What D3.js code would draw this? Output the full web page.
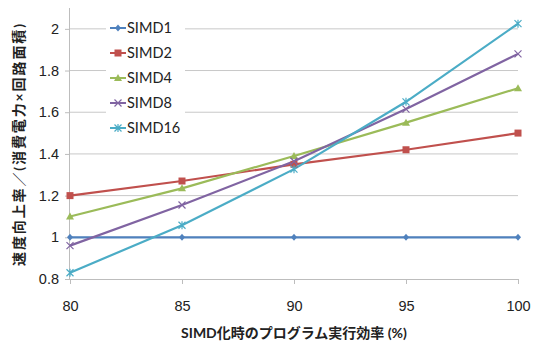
<!DOCTYPE html>
<html>
<head>
<meta charset="utf-8">
<script src="https://cdn.jsdelivr.net/npm/d3@7"></script>
<style>
  body { margin: 0; background: #fff; }
  svg { display: block; font-family: Lato, "Noto Sans CJK JP", sans-serif; }
</style>
</head>
<body>
<div id="chart"></div>
<script>
// data
const xValues = [80, 85, 90, 95, 100];
const simd1 = [1.0, 1.0, 1.0, 1.0, 1.0];
const simd2 = [1.2, 1.27, 1.35, 1.42, 1.5];
const simd4 = [1.1, 1.235, 1.39, 1.55, 1.715];
const simd8 = [0.96, 1.155, 1.365, 1.615, 1.88];
const simd16 = [0.83, 1.058, 1.327, 1.65, 2.025];
const seriesNames = ['SIMD1', 'SIMD2', 'SIMD4', 'SIMD8', 'SIMD16'];
const yTicks = [0.8, 1, 1.2, 1.4, 1.6, 1.8, 2];
const xTitle = 'SIMD化時のプログラム実行効率 (%)';
const yTitle = '速度向上率／(消費電力×回路面積)';

const W = 533, H = 342;
const margin = { top: 8, right: 15, bottom: 63, left: 70 };
const width = W - margin.left - margin.right;
const height = H - margin.top - margin.bottom;

const colors = ['#4F81BD', '#C0504D', '#9BBB59', '#8064A2', '#4BACC6'];
const allSeries = [simd1, simd2, simd4, simd8, simd16];
const series = seriesNames.map((name, i) => ({
    name: name,
    color: colors[i],
    values: xValues.map((x, j) => ({ x: x, y: allSeries[i][j] }))
}));

const svg = d3.select('#chart').append('svg')
    .attr('width', W)
    .attr('height', H)
    .append('g')
    .attr('transform', `translate(${margin.left},${margin.top})`);

const xScale = d3.scaleLinear().domain([80, 100]).range([0, width]);
const yScale = d3.scaleLinear().domain([0.8, 2.1]).range([height, 0]);

// gridlines
svg.append('g')
    .selectAll('line')
    .data(yTicks.slice(1))
    .join('line')
    .attr('x1', 0)
    .attr('x2', width)
    .attr('y1', d => yScale(d))
    .attr('y2', d => yScale(d))
    .attr('stroke', '#c8c8c8')
    .attr('stroke-width', 1);

// y axis
const yAxis = svg.append('g')
    .call(d3.axisLeft(yScale)
        .tickValues(yTicks)
        .tickFormat(d => d3.format('~g')(d))
        .tickSize(5)
        .tickPadding(6)
    );
yAxis.select('.domain').attr('stroke', '#bdbdbd').attr('d', `M-0.5,0V${height}`);
yAxis.selectAll('.tick line').attr('stroke', '#bdbdbd');
yAxis.selectAll('text').attr('font-size', '14.5px').attr('fill', '#222');

// x axis
const xAxis = svg.append('g')
    .attr('transform', `translate(0,${height})`)
    .call(d3.axisBottom(xScale)
        .tickValues(xValues)
        .tickSize(5)
        .tickPadding(17)
    );
xAxis.select('.domain').attr('stroke', '#bdbdbd').attr('d', `M0,0.5H${width}`);
xAxis.selectAll('.tick line').attr('stroke', '#bdbdbd');
xAxis.selectAll('text').attr('font-size', '14.5px').attr('fill', '#222');

// lines
const line = d3.line()
    .x(d => xScale(d.x))
    .y(d => yScale(d.y));

svg.selectAll('.series')
    .data(series)
    .join('path')
    .attr('class', 'series')
    .attr('fill', 'none')
    .attr('stroke', d => d.color)
    .attr('stroke-width', 2.2)
    .attr('d', d => line(d.values));

// markers
function drawMarker(g, i, color) {
    if (i === 0) {
        g.append('path').attr('d', 'M0,-3.5L3,0L0,3.5L-3,0Z').attr('fill', color);
    } else if (i === 1) {
        g.append('rect').attr('x', -3.5).attr('y', -3.5).attr('width', 7).attr('height', 7).attr('fill', color);
    } else if (i === 2) {
        g.append('path').attr('d', 'M0,-4L4,3L-4,3Z').attr('fill', color);
    } else if (i === 3) {
        g.append('path').attr('d', 'M-3.5,-3.5L3.5,3.5M-3.5,3.5L3.5,-3.5')
            .attr('stroke', color).attr('stroke-width', 1.2).attr('fill', 'none');
    } else {
        g.append('path').attr('d', 'M-3.5,-3.5L3.5,3.5M-3.5,3.5L3.5,-3.5M0,-4V4')
            .attr('stroke', color).attr('stroke-width', 1.2).attr('fill', 'none');
    }
}

series.forEach((s, i) => {
    s.values.forEach(v => {
        const g = svg.append('g')
            .attr('transform', `translate(${xScale(v.x)},${yScale(v.y)})`);
        drawMarker(g, i, s.color);
    });
});

// legend
const legend = svg.append('g')
    .attr('transform', 'translate(36,0)');

legend.append('rect')
    .attr('x', 0)
    .attr('y', 4)
    .attr('width', 79)
    .attr('height', 132)
    .attr('fill', '#fff');

series.forEach((s, i) => {
    const ly = 20 + i * 25;
    legend.append('line')
        .attr('x1', 4)
        .attr('x2', 20)
        .attr('y1', ly)
        .attr('y2', ly)
        .attr('stroke', s.color)
        .attr('stroke-width', 2);
    const g = legend.append('g').attr('transform', `translate(12,${ly})`);
    drawMarker(g, i, s.color);
    legend.append('text')
        .attr('x', 21)
        .attr('y', ly)
        .attr('dy', '0.35em')
        .attr('font-size', '14.5px')
        .attr('fill', '#222')
        .text(s.name);
});

// axis titles
svg.append('text')
    .attr('x', width / 2)
    .attr('y', height + 59)
    .attr('text-anchor', 'middle')
    .attr('font-size', '14px')
    .attr('font-weight', 'bold')
    .attr('fill', '#222')
    .text(xTitle);

svg.append('text')
    .attr('transform', 'rotate(-90)')
    .attr('x', -137)
    .attr('y', -46)
    .attr('text-anchor', 'middle')
    .attr('font-size', '14px')
    .attr('font-weight', 'bold')
    .attr('fill', '#222')
    .attr('textLength', 242)
    .attr('lengthAdjust', 'spacing')
    .text(yTitle);
</script>
</body>
</html>
